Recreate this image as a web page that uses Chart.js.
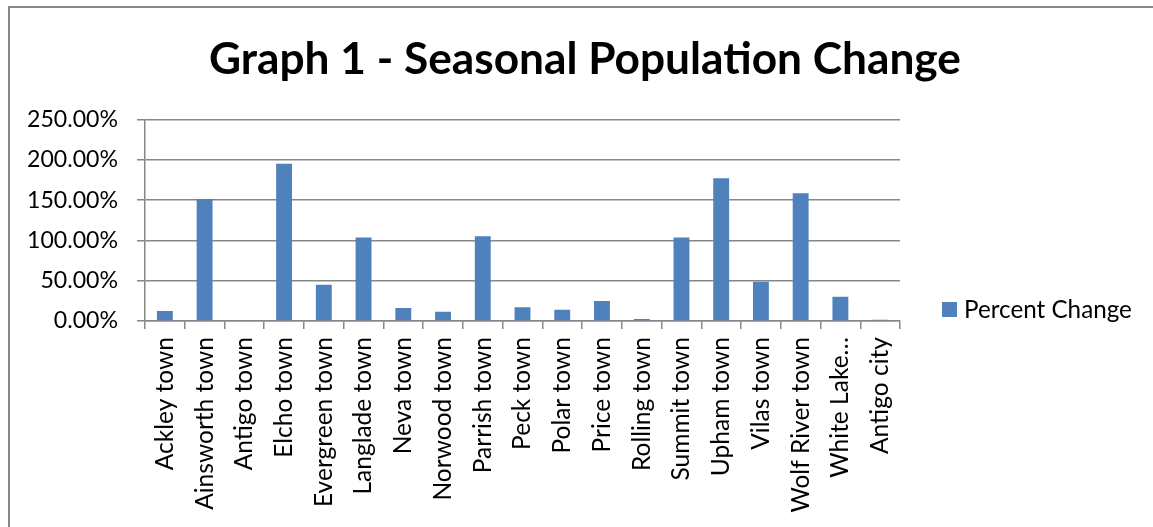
<!DOCTYPE html>
<html>
<head>
<meta charset="utf-8">
<script src="https://cdn.jsdelivr.net/npm/chart.js@4.4.1/dist/chart.umd.min.js"></script>
<style>
  html, body { margin: 0; padding: 0; background: #fff; }
  #frame { position: absolute; left: 8px; top: 6px; width: 1300px; height: 700px;
           border-left: 2px solid #878787; border-top: 2px solid #878787; }
  #c { position: absolute; left: 0; top: 0; }
</style>
</head>
<body>
<div id="frame"></div>
<canvas id="c" width="1153" height="527"></canvas>
<script>
// ---- data ----
const categories = [
  "Ackley town", "Ainsworth town", "Antigo town", "Elcho town", "Evergreen town",
  "Langlade town", "Neva town", "Norwood town", "Parrish town", "Peck town",
  "Polar town", "Price town", "Rolling town", "Summit town", "Upham town",
  "Vilas town", "Wolf River town", "White Lake\u2026", "Antigo city"
];
const percentChange = [
  12.4, 151.5, 0, 195, 45,
  103.5, 16.1, 11.6, 105, 17,
  14, 24.8, 2.5, 103.5, 177,
  48.8, 158.5, 30.2, 1.7
];
const seriesName = "Percent Change";
const titleText = "Graph 1 - Seasonal Population Change";
const yTicks = [0, 50, 100, 150, 200, 250];

// ---- font sizing helper ----
const FAMILY = "Lato, 'Open Sans', sans-serif";
function fitSize(text, weight, target) {
  const ctx = document.createElement('canvas').getContext('2d');
  ctx.font = weight + ' 100px ' + FAMILY;
  return 100 * target / ctx.measureText(text).width;
}
const titleSize = fitSize(titleText, 'bold', 752);
const tickSize = fitSize('250.00%', 'normal', 91);
const xSize = fitSize('Ainsworth town', 'normal', 173);
const legendSize = fitSize(seriesName, 'normal', 168);

const PLOT_TOP = 119.5, PLOT_BOTTOM = 321, PLOT_LEFT = 145, PLOT_RIGHT = 900;

const barColor = '#4F81BD';
const gridColor = '#878787';

const overlayPlugin = {
  id: 'titleAndLegend',
  afterDraw(chart) {
    const ctx = chart.ctx;
    ctx.save();
    // title
    ctx.fillStyle = '#000';
    ctx.font = 'bold ' + titleSize + 'px ' + FAMILY;
    ctx.textAlign = 'center';
    ctx.textBaseline = 'alphabetic';
    ctx.fillText(titleText, 585, 73.5);
    // legend
    ctx.fillStyle = barColor;
    ctx.fillRect(942, 302, 15, 15);
    ctx.fillStyle = '#000';
    ctx.font = legendSize + 'px ' + FAMILY;
    ctx.textAlign = 'left';
    ctx.textBaseline = 'middle';
    ctx.fillText(seriesName, 964, 310);
    ctx.restore();
  }
};

new Chart(document.getElementById('c'), {
  type: 'bar',
  data: {
    labels: categories,
    datasets: [{
      label: seriesName,
      data: percentChange,
      backgroundColor: barColor,
      borderWidth: 0,
      barPercentage: 0.4,
      categoryPercentage: 1.0
    }]
  },
  options: {
    responsive: false,
    animation: false,
    devicePixelRatio: 1,
    layout: { padding: { top: PLOT_TOP, left: 0, right: 1153 - PLOT_RIGHT, bottom: 0 } },
    plugins: {
      legend: { display: false },
      tooltip: { enabled: false },
      title: { display: false }
    },
    scales: {
      x: {
        offset: true,
        grid: { display: true, drawOnChartArea: false, drawTicks: true, tickLength: 8,
                color: gridColor, lineWidth: 1.5, offset: true },
        border: { display: true, color: gridColor, width: 1.5 },
        ticks: { color: '#000', font: { family: FAMILY, size: xSize },
                 minRotation: 90, maxRotation: 90, autoSkip: false, padding: 8 },
        afterFit(scale) { scale.height = 527 - PLOT_BOTTOM; }
      },
      y: {
        min: 0, max: 250,
        afterBuildTicks(scale) { scale.ticks = yTicks.map(v => ({ value: v })); },
        grid: { color: gridColor, lineWidth: 1.5, tickLength: 8, drawTicks: true },
        border: { display: true, color: gridColor, width: 1.5 },
        ticks: { color: '#000', font: { family: FAMILY, size: tickSize }, padding: 19,
                 callback: v => v.toFixed(2) + '%' },
        afterFit(scale) { scale.width = PLOT_LEFT; }
      }
    }
  },
  plugins: [overlayPlugin]
});
</script>
</body>
</html>
